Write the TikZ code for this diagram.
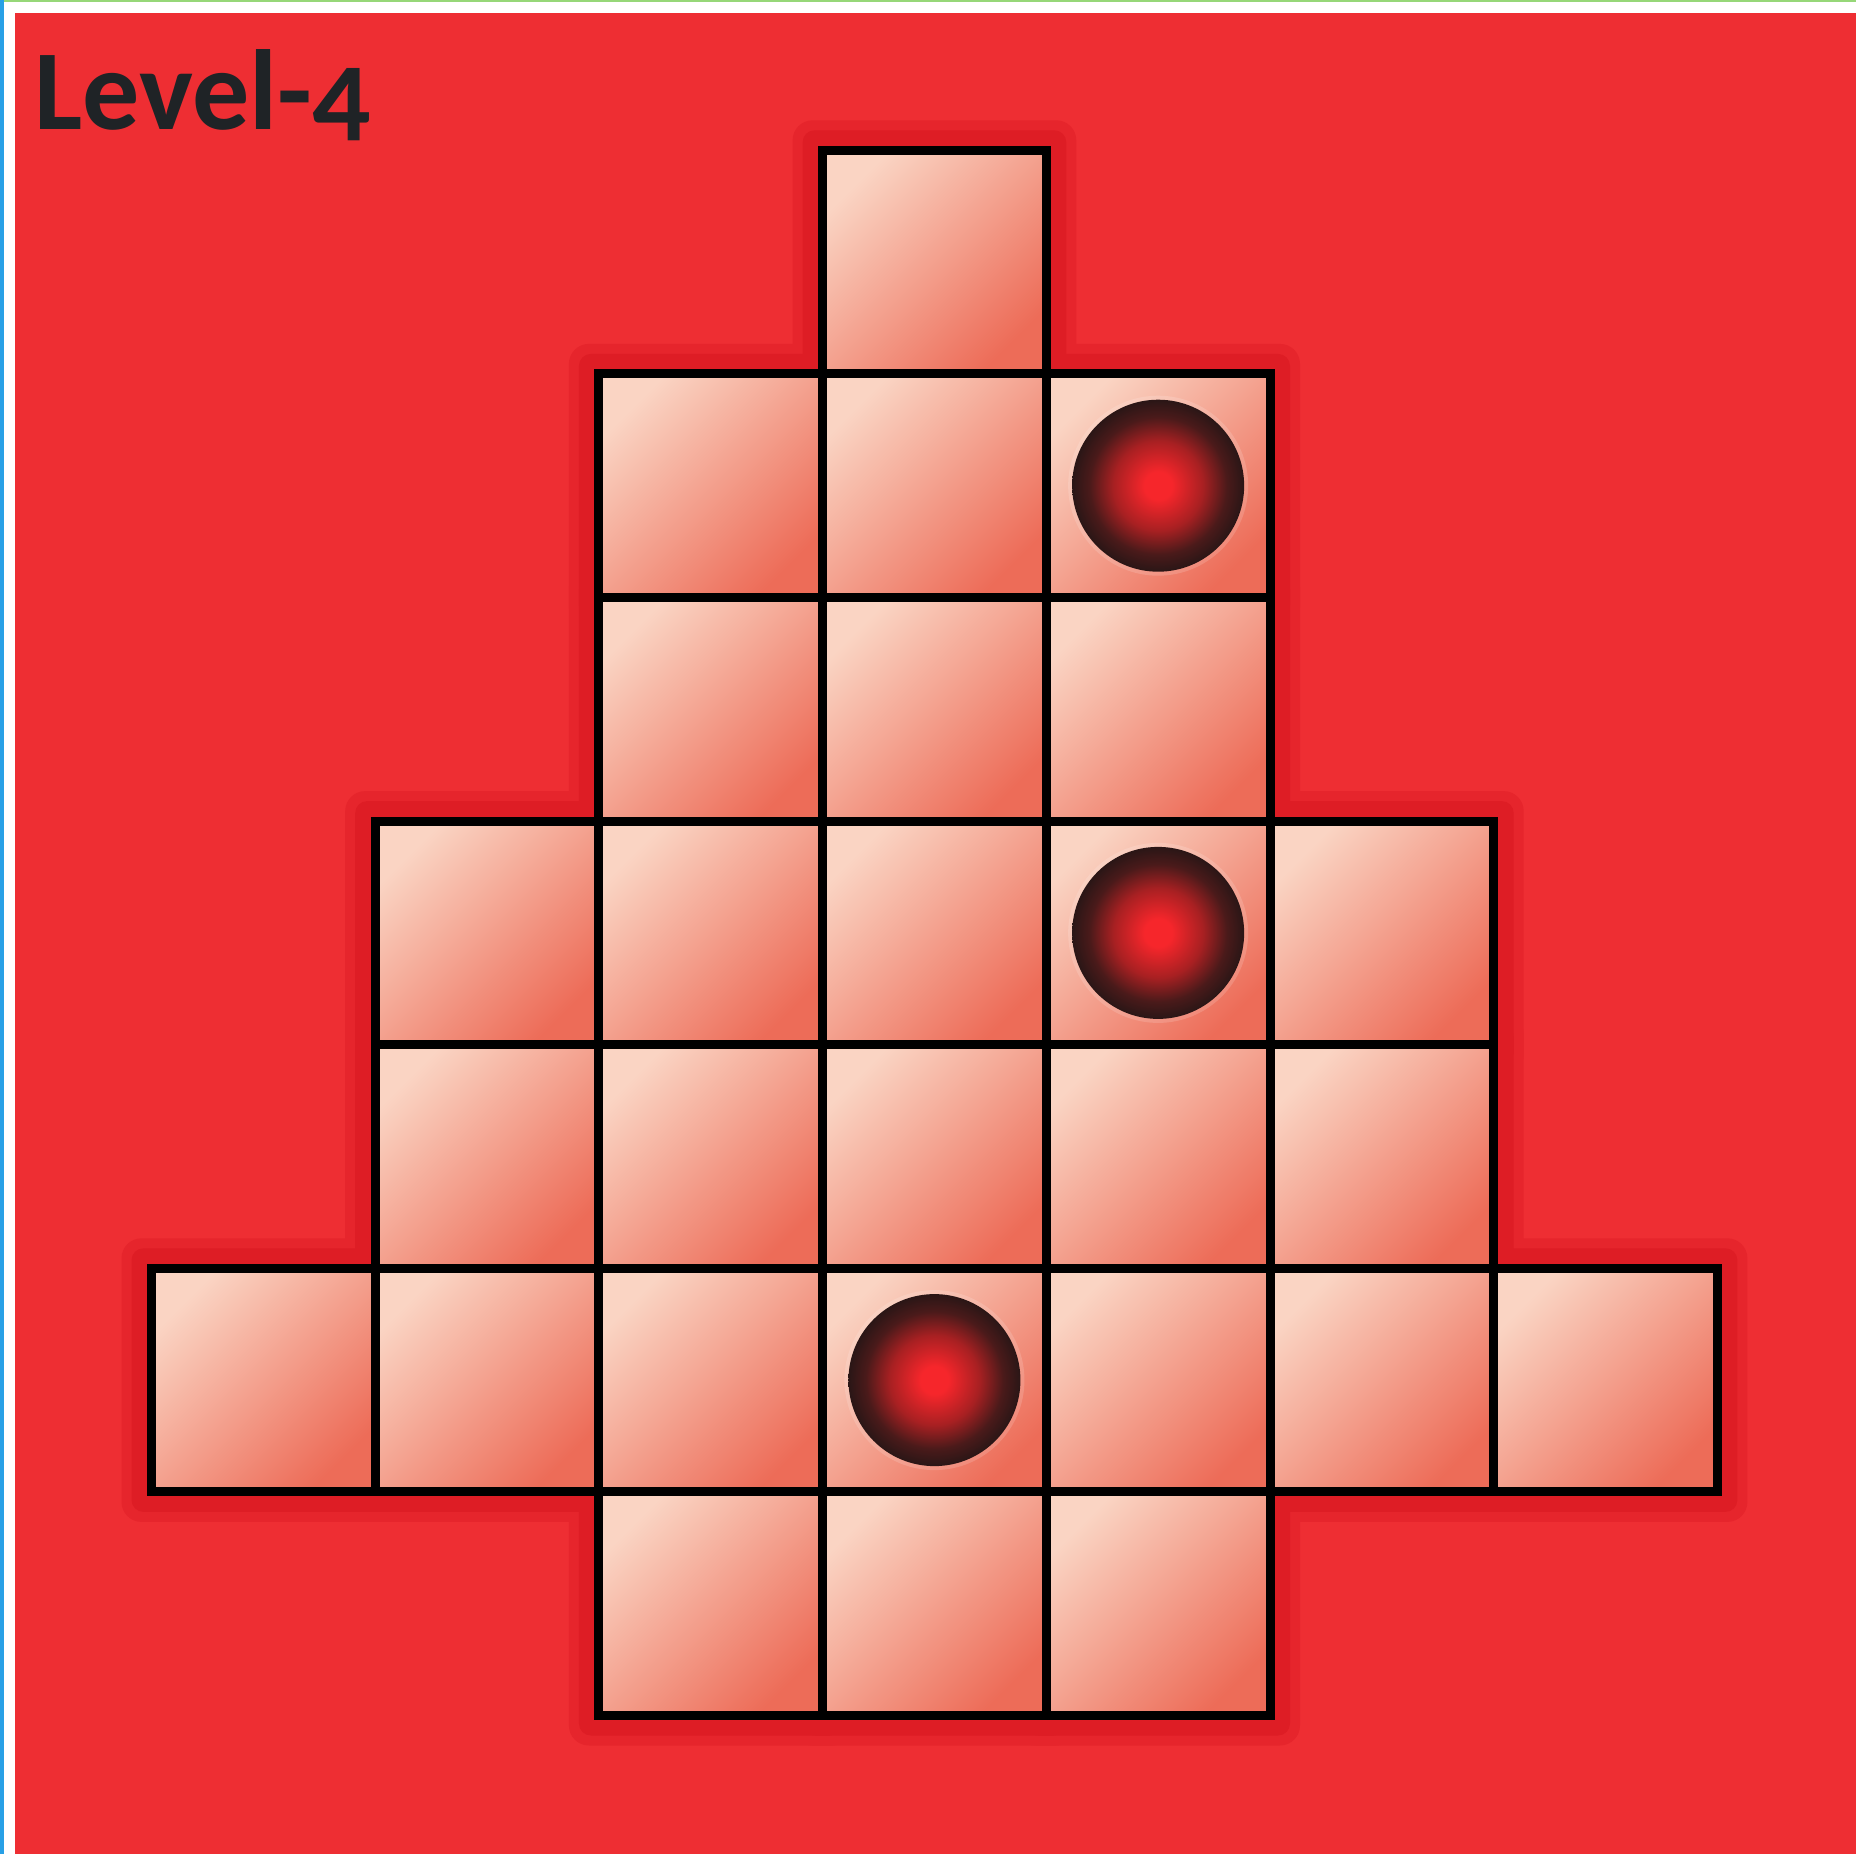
\documentclass[tikz,border=0pt]{standalone}
\usepackage{fontspec}
\setmainfont{Carlito}
\definecolor{bg}{HTML}{EE2E33}
\definecolor{glow}{HTML}{DE1D25}
\definecolor{celltl}{RGB}{250,212,195}
\definecolor{cellbr}{RGB}{237,108,88}
\definecolor{ballin}{HTML}{F6262B}
\definecolor{ballmid}{HTML}{A82022}
\definecolor{balldark}{HTML}{4A1A1A}
\definecolor{ballout}{HTML}{2A1616}
\definecolor{txt}{HTML}{1F2326}
\definecolor{topline}{RGB}{150,215,120}
\definecolor{leftline}{RGB}{40,160,230}
\pgfdeclareradialshading{ballshade}{\pgfpoint{0bp}{0bp}}{color(0bp)=(ballin); color(4bp)=(ballin); color(13bp)=(ballmid); color(20bp)=(balldark); color(25bp)=(ballout); color(50bp)=(ballout)}
\tikzset{
  cellfill/.style={shading=axis, top color=celltl, bottom color=cellbr, shading angle=45},
  cellline/.style={draw=black, line width=9pt, line join=miter},
  glowout/.style={fill=glow!50!bg, rounded corners=20pt},
  glowin/.style={fill=glow, rounded corners=12pt},
  ballstyle/.style={shading=ballshade},
}
\begin{document}
\begin{tikzpicture}[x=1pt,y=-1pt]
\useasboundingbox (0,0) rectangle (1856,1854);
\fill[white] (0,0) rectangle (1856,1854);
\fill[topline] (0,0) rectangle (1856,2.5);
\fill[leftline] (0,0) rectangle (3.5,1854);
\fill[bg] (15,13) rectangle (1856,1854);
\def\celllist{3/0,2/1,3/1,4/1,2/2,3/2,4/2,1/3,2/3,3/3,4/3,5/3,1/4,2/4,3/4,4/4,5/4,0/5,1/5,2/5,3/5,4/5,5/5,6/5,2/6,3/6,4/6}
% glow around the board
\foreach \c/\r in \celllist {
  \fill[glowout] ({151.5+223.7*\c-30},{150.3+223.6*\r-30}) rectangle +(283.7,283.6);
}
\foreach \c/\r in \celllist {
  \fill[glowin] ({151.5+223.7*\c-20},{150.3+223.6*\r-20}) rectangle +(263.7,263.6);
}
% cells
\foreach \c/\r in \celllist {
  \shade[cellfill] ({151.5+223.7*\c},{150.3+223.6*\r}) rectangle +(223.7,223.6);
}
\foreach \c/\r in \celllist {
  \draw[cellline] ({151.5+223.7*\c},{150.3+223.6*\r}) rectangle +(223.7,223.6);
}
% balls
\foreach \c/\r/\n in {4/1/ballA,4/3/ballB,3/5/ballC} {
  \coordinate (\n) at ({151.5+223.7*(\c+0.5)},{150.3+223.6*(\r+0.5)});
  \fill[white, opacity=0.15] (\n) circle (90);
  \shade[ballstyle] (\n) circle (86);
}
\node[anchor=base west, inner sep=0pt, text=txt, font=\bfseries\fontsize{114}{120}\selectfont\addfontfeatures{Numbers=OldStyle}] (title) at (34,130) {Level-4};
\end{tikzpicture}
\end{document}
